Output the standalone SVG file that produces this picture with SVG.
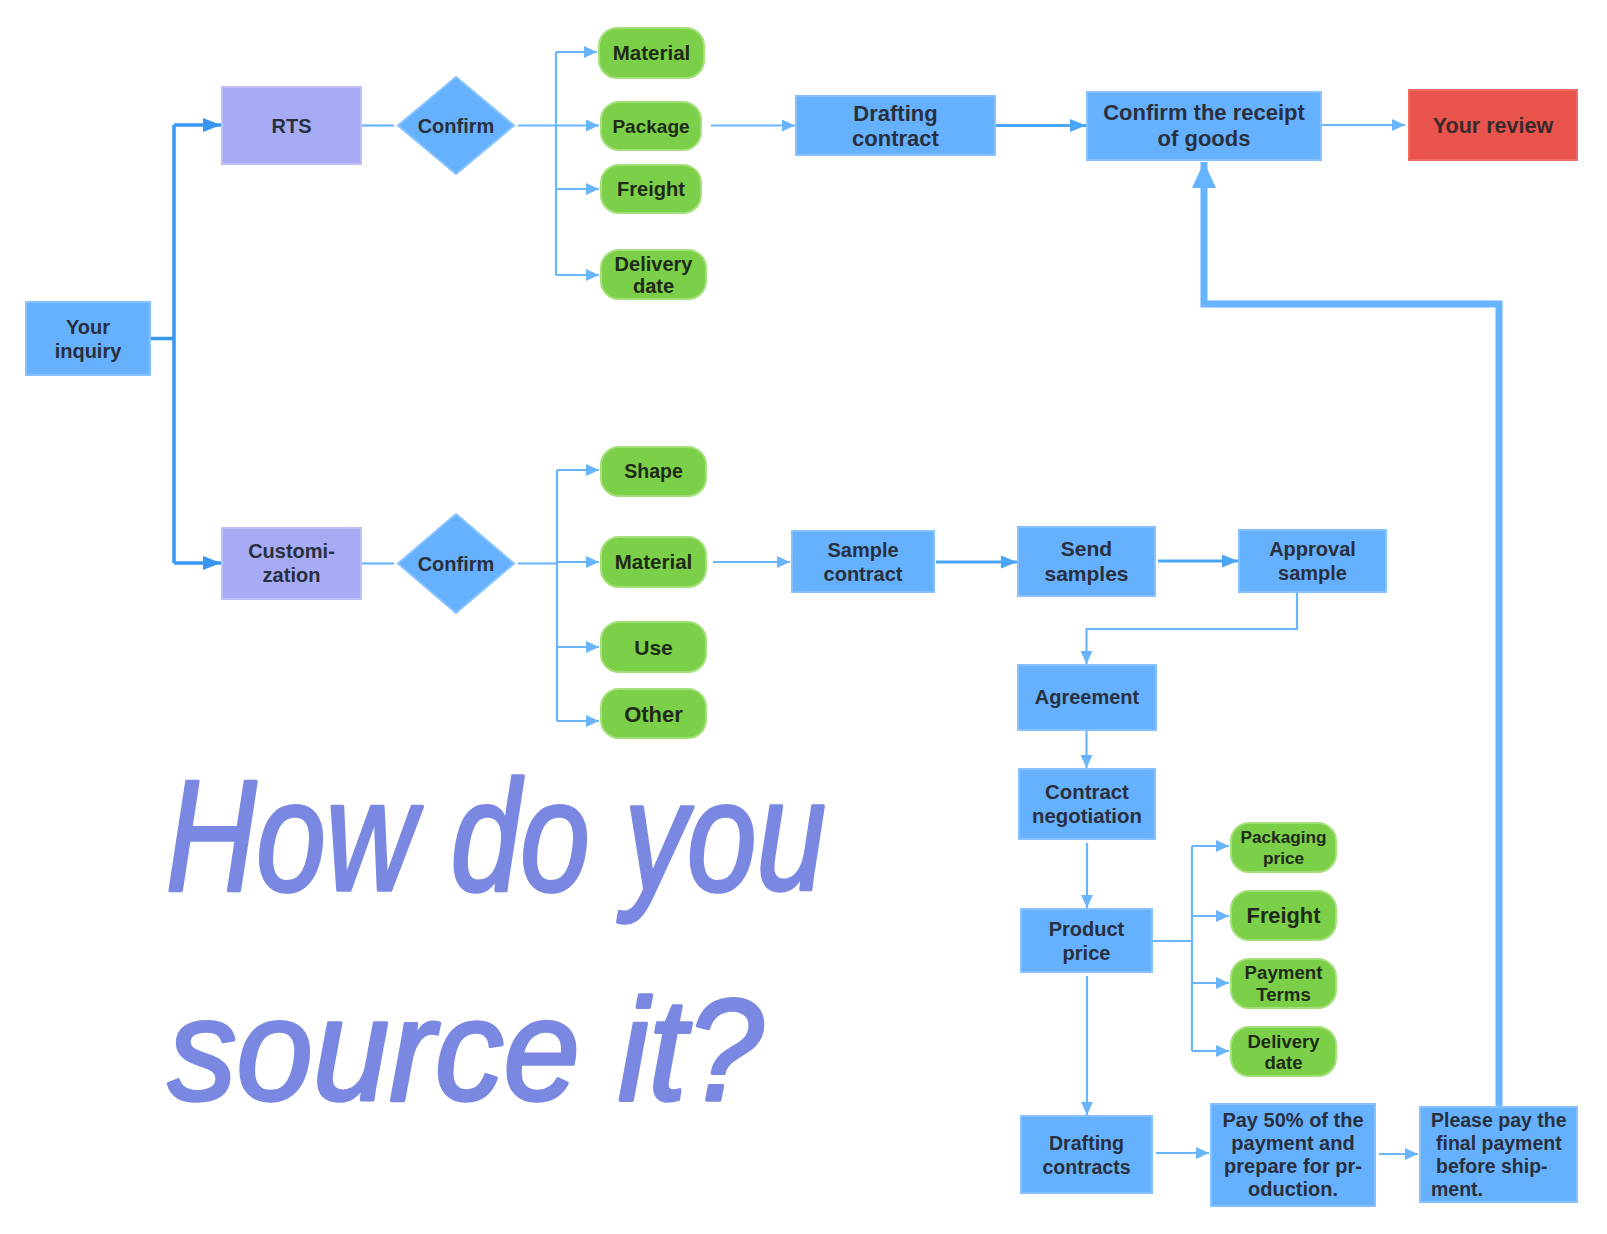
<svg xmlns="http://www.w3.org/2000/svg" width="1607" height="1234" viewBox="0 0 1607 1234">
<style>
.b{fill:#65b1fd;stroke:#86c2ff;stroke-width:2}
.lv{fill:#a6abf3;stroke:#bcc0f7;stroke-width:2}
.rd{fill:#e8534b;stroke:#ee6a63;stroke-width:2}
.g{fill:#7ccf48;stroke:#a3e07a;stroke-width:2}
.t{font-family:"Liberation Sans",Arial,sans-serif;font-weight:bold;font-size:20px;fill:#2a2f3d;text-anchor:middle}
.tg{fill:#1f2a18}
.c{fill:none;stroke:#69b5fb;stroke-width:2.2}
.cd{fill:none;stroke:#3797f0;stroke-width:3.5}
.cm{fill:none;stroke:#4aa5f5;stroke-width:3}
.ck{fill:none;stroke:#66b3ff;stroke-width:7}
.title{font-family:"Liberation Sans","DejaVu Sans",sans-serif;font-style:italic;font-size:158px;fill:#7b88e2;stroke:#7b88e2;stroke-width:3.5;stroke-linejoin:round}
</style>
<defs>
<marker id="arr" viewBox="0 0 13 12" markerWidth="13" markerHeight="12" refX="13" refY="6" orient="auto" markerUnits="userSpaceOnUse"><path d="M0,0 L13,6 L0,12 z" fill="#69b5fb"/></marker>
<marker id="arrD" viewBox="0 0 18 14" markerWidth="18" markerHeight="14" refX="18" refY="7" orient="auto" markerUnits="userSpaceOnUse"><path d="M0,0 L18,7 L0,14 z" fill="#3797f0"/></marker>
<marker id="arrM" viewBox="0 0 16 13" markerWidth="16" markerHeight="13" refX="16" refY="6.5" orient="auto" markerUnits="userSpaceOnUse"><path d="M0,0 L16,6.5 L0,13 z" fill="#4aa5f5"/></marker>
<marker id="arrB" viewBox="0 0 26 24" markerWidth="26" markerHeight="24" refX="26" refY="12" orient="auto" markerUnits="userSpaceOnUse"><path d="M0,0 L26,12 L0,24 z" fill="#66b3ff"/></marker>
</defs>
<rect width="1607" height="1234" fill="#ffffff"/>

<g id="connectors">
<path class="cd" d="M150,338.5 H174"/>
<path class="cd" d="M174,125 V563"/>
<path class="cd" d="M174,125 H221" marker-end="url(#arrD)"/>
<path class="cd" d="M174,563 H221" marker-end="url(#arrD)"/>
<path class="c" d="M362,125.5 H394"/>
<path class="c" d="M518,125.5 H556"/>
<path class="c" d="M556,52 V275"/>
<path class="c" d="M556,52 H597" marker-end="url(#arr)"/>
<path class="c" d="M556,125.5 H599" marker-end="url(#arr)"/>
<path class="c" d="M556,189 H599" marker-end="url(#arr)"/>
<path class="c" d="M556,275 H599" marker-end="url(#arr)"/>
<path class="c" d="M711,125.5 H795" marker-end="url(#arr)"/>
<path class="cm" d="M996,125.5 H1086" marker-end="url(#arrM)"/>
<path class="c" d="M1322,125 H1405" marker-end="url(#arr)"/>
<path class="c" d="M362,563.5 H394"/>
<path class="c" d="M518,563.5 H557"/>
<path class="c" d="M557,470 V721"/>
<path class="c" d="M557,470 H599" marker-end="url(#arr)"/>
<path class="c" d="M557,562 H599" marker-end="url(#arr)"/>
<path class="c" d="M557,647 H599" marker-end="url(#arr)"/>
<path class="c" d="M557,721 H599" marker-end="url(#arr)"/>
<path class="c" d="M713,562 H790" marker-end="url(#arr)"/>
<path class="cm" d="M936,562 H1017" marker-end="url(#arrM)"/>
<path class="cm" d="M1158,561 H1238" marker-end="url(#arrM)"/>
<path class="c" d="M1297,592 V629 H1086.5 V664" marker-end="url(#arr)"/>
<path class="c" d="M1086.5,730 V768" marker-end="url(#arr)"/>
<path class="c" d="M1087,843 V908" marker-end="url(#arr)"/>
<path class="c" d="M1152,941 H1192"/>
<path class="c" d="M1192,846 V1051"/>
<path class="c" d="M1192,846 H1229" marker-end="url(#arr)"/>
<path class="c" d="M1192,916 H1229" marker-end="url(#arr)"/>
<path class="c" d="M1192,983 H1229" marker-end="url(#arr)"/>
<path class="c" d="M1192,1051 H1229" marker-end="url(#arr)"/>
<path class="c" d="M1087,976 V1115" marker-end="url(#arr)"/>
<path class="c" d="M1156,1153 H1209" marker-end="url(#arr)"/>
<path class="c" d="M1379,1154 H1418" marker-end="url(#arr)"/>
<path class="ck" d="M1499,1106 V304 H1204 V162" marker-end="url(#arrB)"/>
</g>

<g id="inquiry"><rect class="b" x="26" y="302" width="124" height="73"/><text class="t" x="88" y="333.5">Your<tspan x="88" dy="24">inquiry</tspan></text></g>
<g id="rts"><rect class="lv" x="222" y="87" width="139" height="77"/><text class="t" x="291.5" y="132.5">RTS</text></g>
<g id="confirm1"><polygon class="b" points="456,77 514,125.5 456,174 398,125.5"/><text class="t" x="456" y="132.5">Confirm</text></g>
<g id="material1"><rect class="g" x="599" y="28" width="105" height="50" rx="18"/><text class="t tg" x="651.5" y="60" style="font-size:20.5px">Material</text></g>
<g id="package"><rect class="g" x="601" y="102" width="100" height="48" rx="18"/><text class="t tg" x="651" y="132.5" style="font-size:19px">Package</text></g>
<g id="freight1"><rect class="g" x="601" y="165" width="100" height="48" rx="18"/><text class="t tg" x="651" y="196">Freight</text></g>
<g id="delivery1"><rect class="g" x="601" y="250" width="105" height="49" rx="18"/><text class="t tg" x="653.5" y="270.5">Delivery<tspan x="653.5" dy="22.5">date</tspan></text></g>
<g id="drafting1"><rect class="b" x="796" y="96" width="199" height="59"/><text class="t" x="895.5" y="121" style="font-size:22px">Drafting<tspan x="895.5" dy="25">contract</tspan></text></g>
<g id="receipt"><rect class="b" x="1087" y="92" width="234" height="68"/><text class="t" x="1204" y="120" style="font-size:22px">Confirm the receipt<tspan x="1204" dy="26">of goods</tspan></text></g>
<g id="review"><rect class="rd" x="1409" y="90" width="168" height="70"/><text class="t" x="1493" y="133" style="font-size:21.5px;fill:#3a2a2c">Your review</text></g>

<g id="customization"><rect class="lv" x="222" y="528" width="139" height="71"/><text class="t" x="291.5" y="558">Customi-<tspan x="291.5" dy="24">zation</tspan></text></g>
<g id="confirm2"><polygon class="b" points="456,514 514,563.5 456,613 398,563.5"/><text class="t" x="456" y="570.5">Confirm</text></g>
<g id="shape"><rect class="g" x="601" y="447" width="105" height="49" rx="18"/><text class="t tg" x="653.5" y="478" style="font-size:19.5px">Shape</text></g>
<g id="material2"><rect class="g" x="601" y="537" width="105" height="50" rx="18"/><text class="t tg" x="653.5" y="569" style="font-size:20.5px">Material</text></g>
<g id="use"><rect class="g" x="601" y="622" width="105" height="50" rx="18"/><text class="t tg" x="653.5" y="654.5" style="font-size:21px">Use</text></g>
<g id="other"><rect class="g" x="601" y="689" width="105" height="49" rx="18"/><text class="t tg" x="653.5" y="721.5" style="font-size:22px">Other</text></g>
<g id="sample"><rect class="b" x="792" y="531" width="142" height="61"/><text class="t" x="863" y="557">Sample<tspan x="863" dy="24">contract</tspan></text></g>
<g id="send"><rect class="b" x="1018" y="527" width="137" height="69"/><text class="t" x="1086.5" y="556" style="font-size:21px">Send<tspan x="1086.5" dy="25">samples</tspan></text></g>
<g id="approval"><rect class="b" x="1239" y="530" width="147" height="62"/><text class="t" x="1312.5" y="556">Approval<tspan x="1312.5" dy="24">sample</tspan></text></g>
<g id="agreement"><rect class="b" x="1018" y="665" width="138" height="65"/><text class="t" x="1087" y="704">Agreement</text></g>
<g id="negotiation"><rect class="b" x="1019" y="769" width="136" height="70"/><text class="t" x="1087" y="799" style="font-size:20.4px">Contract<tspan x="1087" dy="24">negotiation</tspan></text></g>
<g id="product"><rect class="b" x="1021" y="909" width="131" height="63"/><text class="t" x="1086.5" y="935.5">Product<tspan x="1086.5" dy="24">price</tspan></text></g>
<g id="packaging"><rect class="g" x="1231" y="823" width="105" height="49" rx="18"/><text class="t tg" x="1283.5" y="843" style="font-size:17.2px">Packaging<tspan x="1283.5" dy="21">price</tspan></text></g>
<g id="freight2"><rect class="g" x="1231" y="891" width="105" height="49" rx="18"/><text class="t tg" x="1283.5" y="923" style="font-size:21.8px">Freight</text></g>
<g id="payment"><rect class="g" x="1231" y="959" width="105" height="49" rx="18"/><text class="t tg" x="1283.5" y="979" style="font-size:18.7px">Payment<tspan x="1283.5" dy="22">Terms</tspan></text></g>
<g id="delivery2"><rect class="g" x="1231" y="1027" width="105" height="49" rx="18"/><text class="t tg" x="1283.5" y="1048" style="font-size:18.5px">Delivery<tspan x="1283.5" dy="21">date</tspan></text></g>
<g id="drafting2"><rect class="b" x="1021" y="1116" width="131" height="77"/><text class="t" x="1086.5" y="1150" style="font-size:19.6px">Drafting<tspan x="1086.5" dy="24">contracts</tspan></text></g>
<g id="pay50"><rect class="b" x="1211" y="1104" width="164" height="102"/><text class="t" x="1293" y="1127">Pay 50% of the<tspan x="1293" dy="23">payment and</tspan><tspan x="1293" dy="23">prepare for pr-</tspan><tspan x="1293" dy="23">oduction.</tspan></text></g>
<g id="please"><rect class="b" x="1420" y="1107" width="157" height="95"/><text class="t" x="1431" y="1127" style="text-anchor:start;font-size:19.5px">Please pay the<tspan x="1436" dy="23">final payment</tspan><tspan x="1436" dy="23">before ship-</tspan><tspan x="1431" dy="23">ment.</tspan></text></g>

<g id="title">
<text class="title" x="166" y="890" textLength="660" lengthAdjust="spacingAndGlyphs">How do you</text>
<text class="title" x="168" y="1100" textLength="595" lengthAdjust="spacingAndGlyphs" style="font-size:145px">source it?</text>
</g>
</svg>
